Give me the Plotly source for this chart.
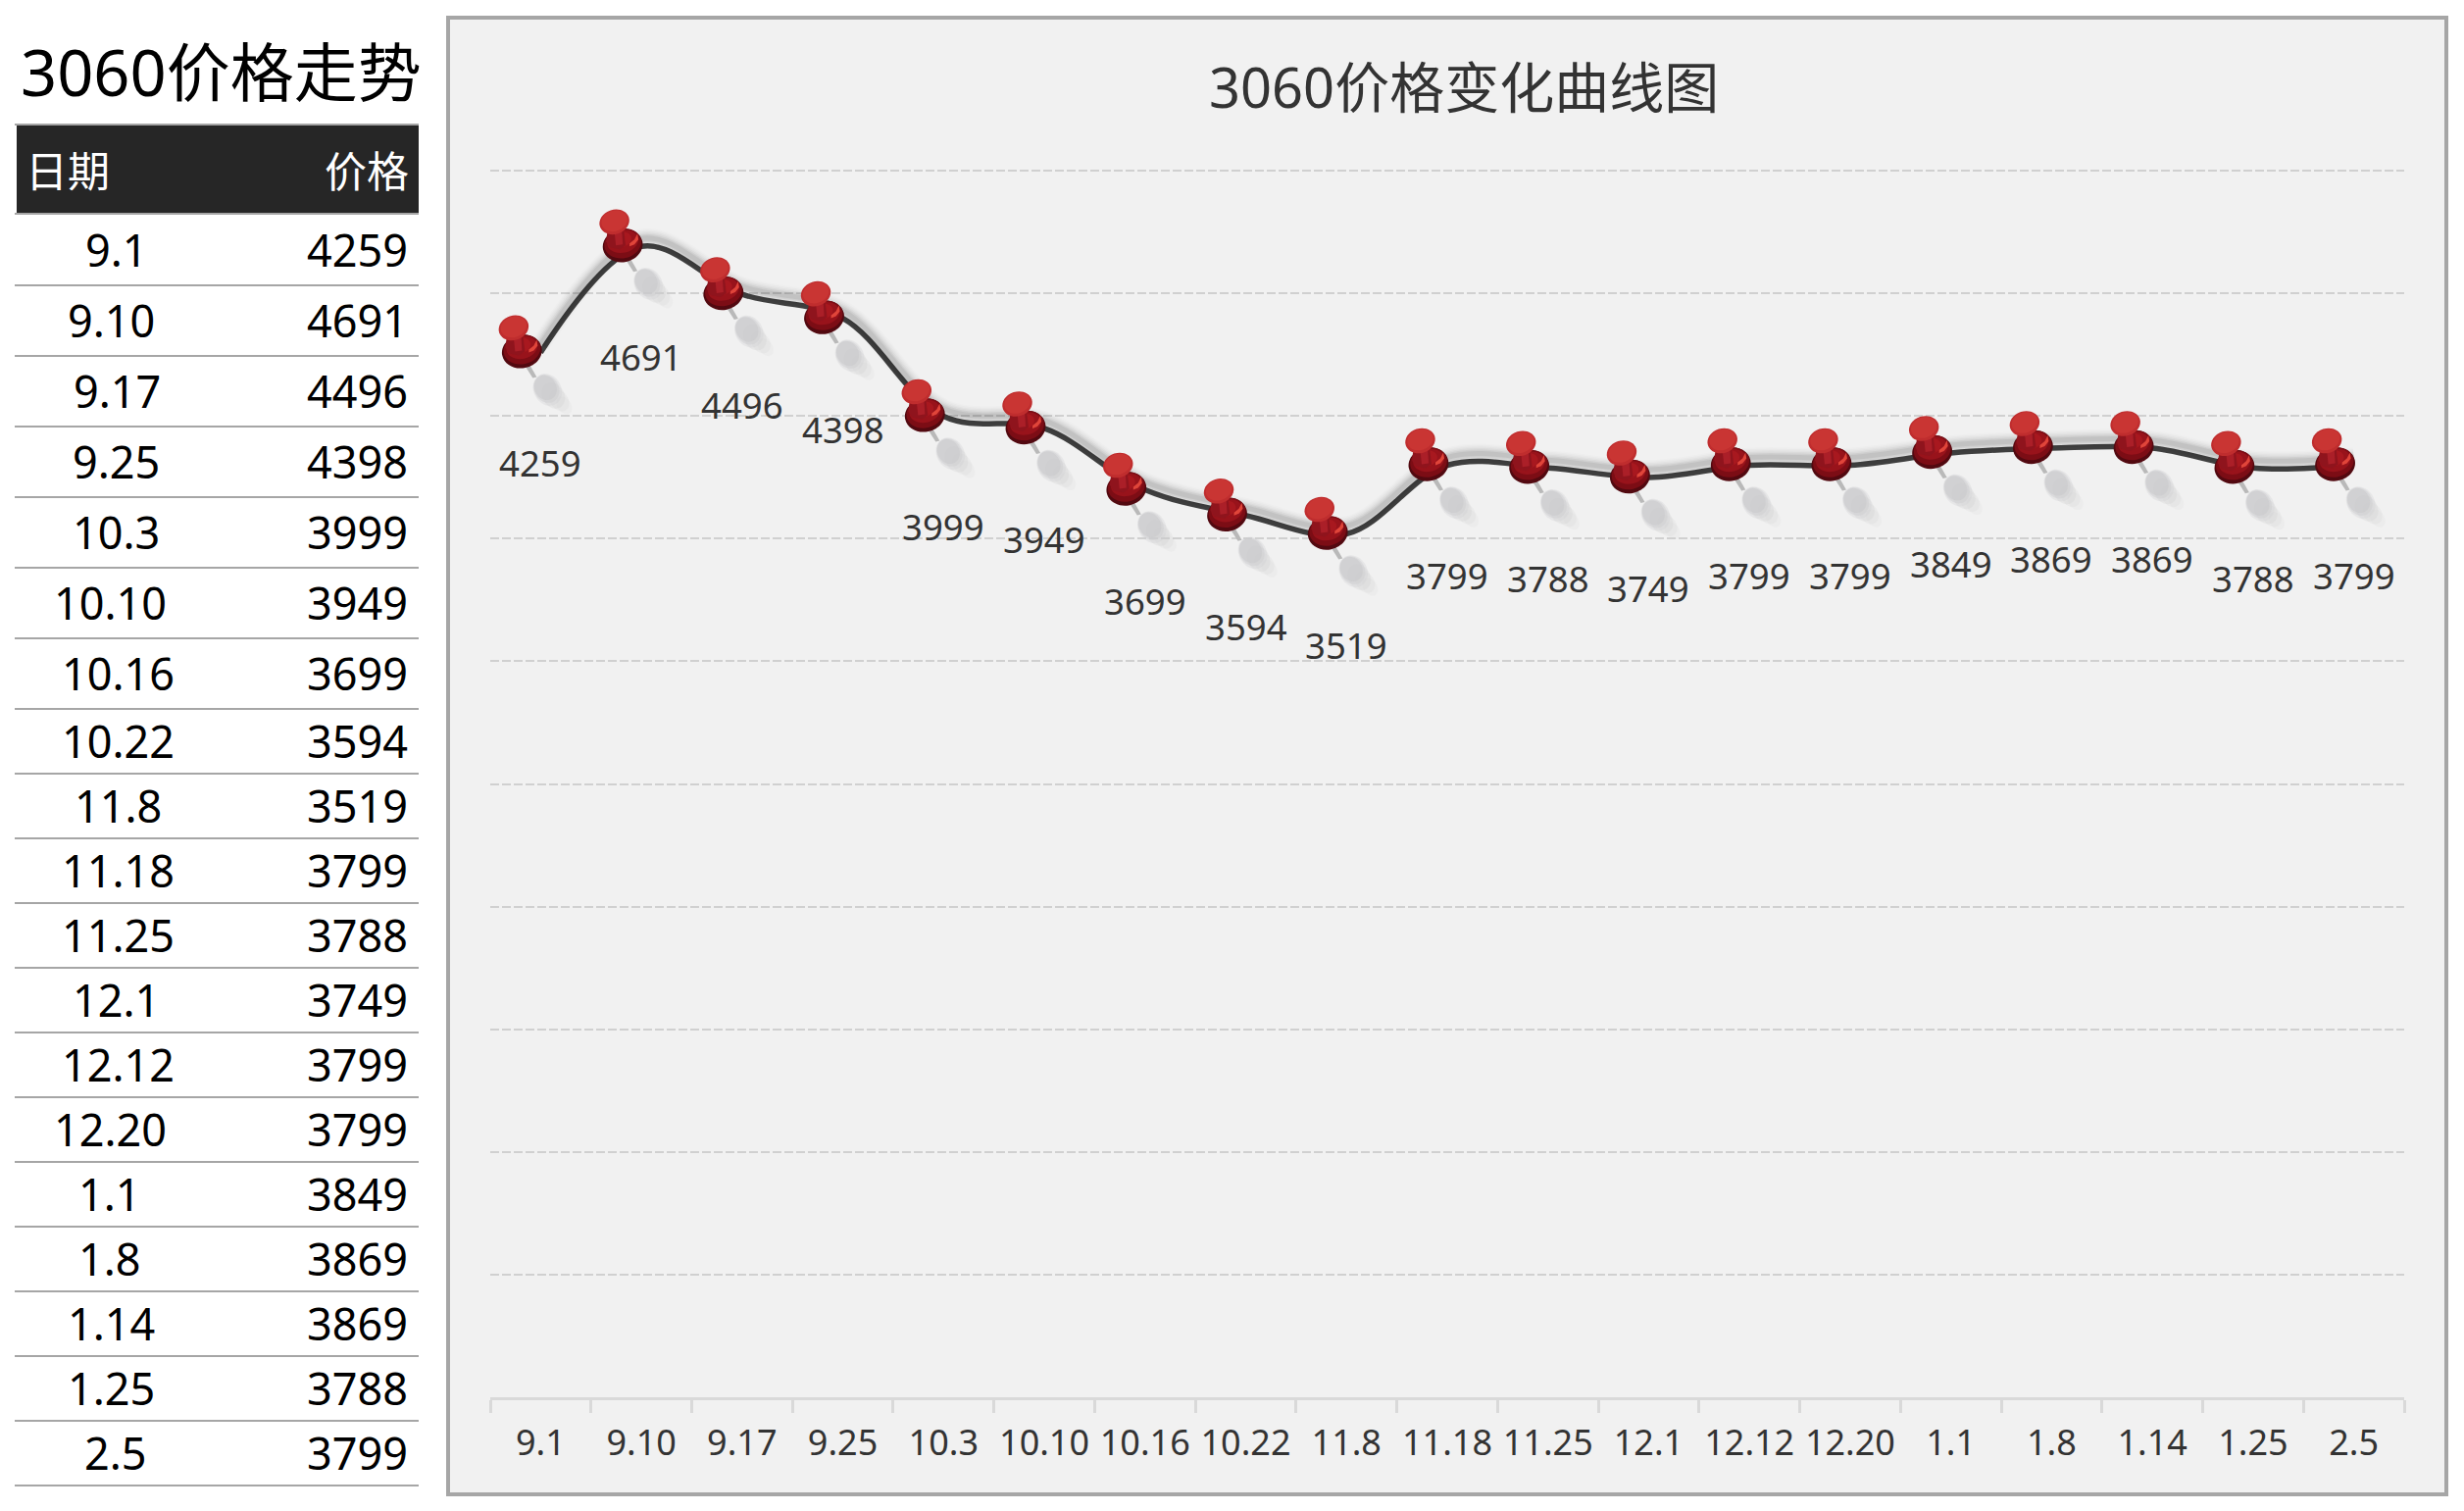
import math
from plotly import graph_objects as go

W, H = 2513, 1541

dates = ["9.1", "9.10", "9.17", "9.25", "10.3", "10.10", "10.16", "10.22", "11.8", "11.18",
         "11.25", "12.1", "12.12", "12.20", "1.1", "1.8", "1.14", "1.25", "2.5"]
prices = [4259, 4691, 4496, 4398, 3999, 3949, 3699, 3594, 3519, 3799,
          3788, 3749, 3799, 3799, 3849, 3869, 3869, 3788, 3799]
y_ticks = [0, 500, 1000, 1500, 2000, 2500, 3000, 3500, 4000, 4500, 5000]

# table geometry, in page pixels
row_lines = [291, 363, 435, 507, 579, 651, 723, 789, 855, 921, 987,
             1053, 1119, 1185, 1251, 1317, 1383, 1449, 1515]
date_centers = [119, 113, 119, 118, 118, 112, 120, 120, 120, 120,
                120, 118, 120, 112, 112, 112, 113, 113, 118]

TEXT_FONT = "Noto Sans, Noto Sans CJK SC, sans-serif"


def px_x(x):
    return x / W


def px_y(y):
    return 1 - y / H


def ellipse_path(cx, cy, rx, ry, deg=0):
    # bezier ellipse, y is flipped because pixel-mode shapes count upwards
    k = 0.5523
    a = math.radians(deg)

    def p(u, v):
        return f"{cx + u * math.cos(a) - v * math.sin(a):.2f},{-(cy + u * math.sin(a) + v * math.cos(a)):.2f}"

    return (f"M{p(rx, 0)} C{p(rx, k * ry)} {p(k * rx, ry)} {p(0, ry)} "
            f"C{p(-k * rx, ry)} {p(-rx, k * ry)} {p(-rx, 0)} "
            f"C{p(-rx, -k * ry)} {p(-k * rx, -ry)} {p(0, -ry)} "
            f"C{p(k * rx, -ry)} {p(rx, -k * ry)} {p(rx, 0)} Z")


def poly_path(points):
    return "M" + " L".join(f"{x},{-y}" for x, y in points) + " Z"


# pin drawing relative to its data point, pixels, y down
pin_parts = [
    # cast shadow, soft tail then core
    (ellipse_path(24, 54, 7, 10, -35), "rgba(205,205,205,0.12)"),
    (ellipse_path(19, 49, 9, 12, -35), "rgba(205,205,205,0.18)"),
    (ellipse_path(13, 44, 11, 14, -32), "rgba(205,205,205,0.25)"),
    (ellipse_path(7, 38, 14, 17, -30), "rgba(205,205,207,0.3)"),
    (ellipse_path(6, 37, 12.5, 15, -30), "rgba(205,205,207,0.45)"),
    (ellipse_path(5, 36, 11, 13, -30), "rgba(200,200,202,0.5)"),
    # needle
    (poly_path([(-17, 12), (-12, 11), (-4, 25), (-8, 26)]), "#b9b9b9"),
    # body
    (ellipse_path(-19, -1, 20.5, 17, -12), "#520910"),
    (ellipse_path(-19, -3, 19, 15, -12), "#7c0d15"),
    (ellipse_path(-19, -5, 16, 11.5, -12), "#98131b"),
    (ellipse_path(-21, -7, 11, 8, -12), "#a8181f"),
    # neck
    (poly_path([(-34, -20), (-18, -17), (-16, -1), (-22, 3), (-32, 1), (-36, -5)]), "#8f141d"),
    (poly_path([(-28, -20), (-20, -18), (-19, -2), (-26, -1)]), "#ab1f28"),
    # highlight
    (poly_path([(-12, -3), (-7, -7), (-4, -13), (-3, -7), (-7, -2), (-12, 0)]), "#e0453a"),
    # head
    (ellipse_path(-27.5, -25, 15.5, 12.5, -18), "#bf2d2e"),
    (ellipse_path(-27.5, -26, 13.5, 10.5, -18), "#c93533"),
]

fig = go.Figure()

# soft shadow of the curve, same data on an axis shifted a few pixels
for width, alpha in [(20, 0.012), (17, 0.018), (14, 0.025), (11, 0.035), (8, 0.05), (5, 0.06)]:
    fig.add_trace(go.Scatter(x=dates, y=prices, mode="lines", yaxis="y2", hoverinfo="skip",
                             line=dict(color=f"rgba(0,0,0,{alpha})", width=width, shape="spline", smoothing=1)))

fig.add_trace(go.Scatter(x=dates, y=prices, mode="lines",
                         line=dict(color="#404040", width=5.5, shape="spline", smoothing=1)))

shapes = []

# chart panel
shapes.append(dict(type="rect", xref="paper", yref="paper", layer="below",
                   x0=px_x(457), x1=px_x(2495), y0=px_y(1524), y1=px_y(18),
                   fillcolor="#f1f1f1", line=dict(color="#a6a6a6", width=4)))

# table header and rows
shapes.append(dict(type="rect", xref="paper", yref="paper", layer="below",
                   x0=px_x(17), x1=px_x(427), y0=px_y(218), y1=px_y(128),
                   fillcolor="#262626", line_width=0))
for y in [127, 218] + row_lines:
    shapes.append(dict(type="line", xref="paper", yref="paper", layer="below",
                       x0=px_x(15), x1=px_x(427), y0=px_y(y), y1=px_y(y),
                       line=dict(color="#a6a6a6", width=2)))

# one pin per point, anchored on the data
for i, v in enumerate(prices):
    for path, fill in pin_parts:
        shapes.append(dict(type="path", xref="x", yref="y", xsizemode="pixel", ysizemode="pixel",
                           xanchor=i, yanchor=v, path=path, fillcolor=fill, line_width=0))

annotations = []


def page_text(text, x, y, size, color, anchor="center"):
    annotations.append(dict(text=text, xref="paper", yref="paper", x=px_x(x), y=px_y(y),
                            xanchor=anchor, yanchor="middle", showarrow=False,
                            font=dict(family=TEXT_FONT, size=size, color=color)))


page_text("3060价格走势", 19, 73, 65, "#000000", "left")
page_text("日期", 24, 175, 43, "#ffffff", "left")
page_text("价格", 419, 175, 43, "#ffffff", "right")
page_text("3060价格变化曲线图", 1493, 88, 56, "#333333")

# table rows
row_tops = [218] + row_lines[:-1]
for d, v, cx, top, bottom in zip(dates, prices, date_centers, row_tops, row_lines):
    mid = (top + bottom) / 2 - 0.5
    page_text(d, cx, mid, 45, "#000000")
    page_text(str(v), 418, mid, 45, "#000000", "right")

# data labels under the pins
for i, v in enumerate(prices):
    annotations.append(dict(text=str(v), x=i, y=v, xref="x", yref="y", yshift=-113, showarrow=False,
                            font=dict(family=TEXT_FONT, size=36.5, color="#333333")))

fig.update_layout(
    width=W, height=H, margin=dict(l=0, r=0, t=0, b=0), showlegend=False,
    paper_bgcolor="#ffffff", plot_bgcolor="rgba(0,0,0,0)",
    shapes=shapes, annotations=annotations,
    xaxis=dict(type="category", categoryorder="array", categoryarray=dates,
               domain=[px_x(500), px_x(2452)], range=[-0.5, 18.5], tickson="boundaries",
               ticks="outside", ticklen=13, tickwidth=3, tickcolor="#d9d9d9", tickangle=0,
               showline=True, linecolor="#d9d9d9", linewidth=3, showgrid=False, zeroline=False,
               tickfont=dict(family=TEXT_FONT, size=36, color="#333333"), ticklabelstandoff=13,
               automargin=False),
    # top of the range sits just past 5000 so its gridline is kept
    yaxis=dict(domain=[px_y(1425), px_y(170)], range=[0, 5016], tickmode="array", tickvals=y_ticks,
               showticklabels=False, ticks="", showline=False, zeroline=False,
               showgrid=True, gridcolor="#d0d0d0", gridwidth=2, griddash="9px,3px"),
    yaxis2=dict(domain=[px_y(1425), px_y(170)], overlaying="y", range=[-32, 4984], visible=False),
)

fig.write_html("out.html", config=dict(displayModeBar=False),
               post_script="document.body.style.margin='0';document.body.style.overflow='hidden';")
